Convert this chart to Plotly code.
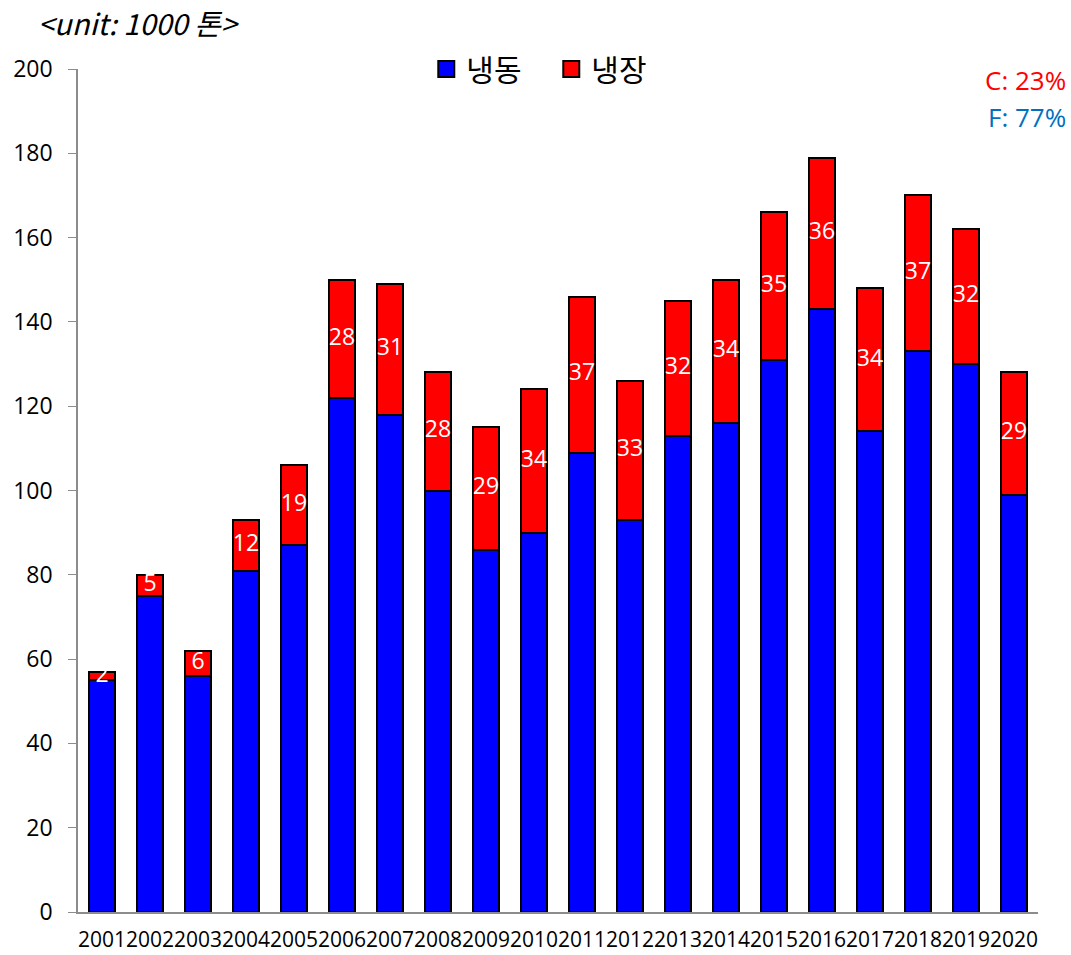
import plotly.graph_objects as go

years = [str(y) for y in range(2001, 2021)]
frozen = [55, 75, 56, 81, 87, 122, 118, 100, 86, 90, 109, 93, 113, 116, 131, 143, 114, 133, 130, 99]
chilled = [2, 5, 6, 12, 19, 28, 31, 28, 29, 34, 37, 33, 32, 34, 35, 36, 34, 37, 32, 29]
y_ticks = [0, 20, 40, 60, 80, 100, 120, 140, 160, 180, 200]

FONT = "Open Sans, Noto Sans CJK KR, sans-serif"
KFONT = "Noto Sans CJK KR, Open Sans, sans-serif"
BLUE = "#0000FF"
RED = "#FF0000"

fig = go.Figure()
fig.add_trace(go.Bar(x=years, y=frozen, name="냉동", showlegend=False,
                     marker=dict(color=BLUE, line=dict(color="black", width=2))))
fig.add_trace(go.Bar(x=years, y=chilled, name="냉장", showlegend=False,
                     marker=dict(color=RED, line=dict(color="black", width=2))))
fig.add_trace(go.Scatter(x=years, y=[f + c / 2 for f, c in zip(frozen, chilled)],
                         text=[str(c) for c in chilled], mode="text",
                         textfont=dict(color="white", size=23, family=FONT),
                         showlegend=False, hoverinfo="skip"))
# legend entries
for nm, col in [("냉동", BLUE), ("냉장", RED)]:
    fig.add_trace(go.Scatter(x=[None], y=[None], mode="markers", name=nm,
                             marker=dict(symbol="square", size=17, color=col,
                                         line=dict(color="black", width=2))))

fig.update_layout(
    barmode="stack", bargap=0.46,
    width=1071, height=955,
    margin=dict(l=78, r=33, t=69, b=43, autoexpand=False),
    plot_bgcolor="white", paper_bgcolor="white",
    font=dict(family=FONT, color="black"),
    legend=dict(orientation="h", x=0.493, xanchor="center", y=1.0, yanchor="middle",
                traceorder="normal", itemsizing="trace", entrywidth=80, itemwidth=30,
                font=dict(size=30, family=KFONT), bgcolor="rgba(0,0,0,0)"),
    xaxis=dict(type="category", range=[-0.5, 19.5], showline=True, linecolor="#8C8C8C",
               linewidth=1.5, ticks="", tickfont=dict(size=21), tickangle=0, showgrid=False,
               automargin=False, ticklabelstandoff=8),
    yaxis=dict(range=[0, 200], tickvals=y_ticks, showline=True, linecolor="#8C8C8C",
               linewidth=1.5, ticks="outside", ticklen=8, tickcolor="#8C8C8C",
               tickfont=dict(size=23), showgrid=False, zeroline=False,
               automargin=False, ticklabelstandoff=11),
)

fig.add_annotation(text="<i>&lt;unit: 1000 톤&gt;</i>", xref="paper", yref="paper",
                   x=-0.044, y=1.0, yshift=47, xanchor="left", yanchor="middle",
                   showarrow=False, font=dict(size=29, family=KFONT, color="black"))
fig.add_annotation(text="C: 23%", xref="paper", yref="paper", x=1.031, y=0.987,
                   xanchor="right", yanchor="middle", showarrow=False,
                   font=dict(size=26, color=RED))
fig.add_annotation(text="F: 77%", xref="paper", yref="paper", x=1.031, y=0.943,
                   xanchor="right", yanchor="middle", showarrow=False,
                   font=dict(size=26, color="#0070C0"))

fig.write_html("out.html", config={"displayModeBar": False},
               post_script="document.body.style.margin='0';document.body.style.overflow='hidden';")
